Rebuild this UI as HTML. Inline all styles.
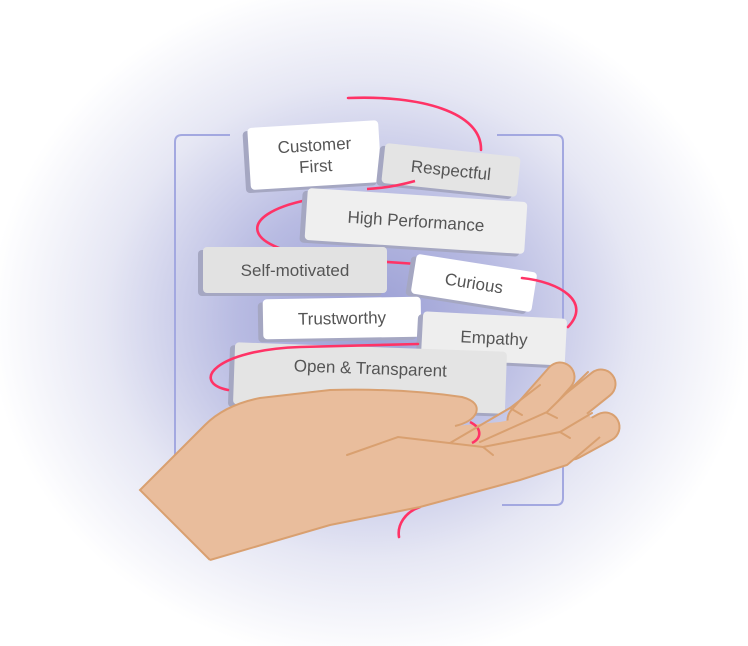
<!DOCTYPE html>
<html><head><style>html,body{margin:0;padding:0;background:#fff}svg{display:block}</style></head>
<body>
<svg width="748" height="646" viewBox="0 0 748 646" xmlns="http://www.w3.org/2000/svg">
<defs>
<radialGradient id="bg" cx="370" cy="320" r="380" gradientUnits="userSpaceOnUse" gradientTransform="translate(370 320) scale(1 0.9) translate(-370 -320)">
<stop offset="0" stop-color="#9a9ed4"/>
<stop offset="0.35" stop-color="#b8bbe2"/>
<stop offset="0.7" stop-color="#e6e7f4"/>
<stop offset="1" stop-color="#ffffff"/>
</radialGradient>
</defs>
<rect width="748" height="646" fill="#fff"/>
<rect width="748" height="646" fill="url(#bg)"/>
<g fill="none" stroke="#a3a8e0" stroke-width="2">
<path d="M230,135 L182,135 Q175,135 175,142 L175,470"/>
<path d="M497,135 L556,135 Q563,135 563,142 L563,498 Q563,505 556,505 L502,505"/>
</g>
<g stroke="#ff3366" stroke-width="2.6" fill="none" stroke-linecap="round">
<path d="M348,98 C420,95 482,112 481,150"/>
<path d="M307,200 C235,215 240,250 330,258 L417,264"/>
</g>
<g font-family="'Liberation Sans',sans-serif" font-size="17" fill="#555" text-anchor="middle">
<g transform="translate(315,155) rotate(-3.5)"><rect x="-71" y="-28" width="131" height="62" rx="4" fill="#a5a7c2"/><rect x="-66" y="-31" width="131" height="62" rx="4" fill="#fff"/><text x="0" y="-4">Customer</text><text x="0" y="17">First</text></g>
<g transform="translate(451,170) rotate(6)"><rect x="-73" y="-17" width="136" height="40" rx="4" fill="#a5a7c2"/><rect x="-68" y="-20" width="136" height="40" rx="4" fill="#e4e4e4"/><text x="0" y="6">Respectful</text></g>
<g transform="translate(416,221) rotate(3.7)"><rect x="-115" y="-23" width="220" height="52" rx="4" fill="#a5a7c2"/><rect x="-110" y="-26" width="220" height="52" rx="4" fill="#efefef"/><text x="0" y="6">High Performance</text></g>
<path d="M415,181 Q390,188 367,189" stroke="#ff3366" stroke-width="2.6" fill="none"/>
<g transform="translate(295,270)"><rect x="-97" y="-20" width="184" height="46" rx="4" fill="#a5a7c2"/><rect x="-92" y="-23" width="184" height="46" rx="4" fill="#e2e2e2"/><text x="0" y="6">Self-motivated</text></g>
<g transform="translate(474,283) rotate(9)"><rect x="-66" y="-17" width="122" height="40" rx="4" fill="#a5a7c2"/><rect x="-61" y="-20" width="122" height="40" rx="4" fill="#fff"/><text x="0" y="6">Curious</text></g>
<g transform="translate(342,318) rotate(-1)"><rect x="-84" y="-17" width="158" height="40" rx="4" fill="#a5a7c2"/><rect x="-79" y="-20" width="158" height="40" rx="4" fill="#fff"/><text x="0" y="6">Trustworthy</text></g>
<g transform="translate(494,338) rotate(3)"><rect x="-77" y="-20" width="144" height="47" rx="4" fill="#a5a7c2"/><rect x="-72" y="-23" width="144" height="47" rx="4" fill="#eeeeee"/><text x="0" y="6">Empathy</text></g>
<g transform="translate(370,378) rotate(2)"><rect x="-141" y="-28" width="272" height="62" rx="4" fill="#a5a7c2"/><rect x="-136" y="-31" width="272" height="62" rx="4" fill="#e4e4e4"/><text x="0" y="-4">Open &amp; Transparent</text></g>
</g>
<g stroke="#ff3366" stroke-width="2.6" fill="none" stroke-linecap="round">
<path d="M522,278 C560,282 592,302 568,327"/>
<path d="M418,344 L300,347 C215,350 190,382 228,390"/>
<path d="M420,507 C405,512 397,525 399,537"/>
</g>
<g stroke-linecap="round" fill="none">
<g stroke="#d9a070" stroke-width="31"><path d="M522,420 L560,377"/><path d="M556,420 L601,384"/><path d="M572,445 L605,427"/></g>
<g stroke="#e9bd9c" stroke-width="27"><path d="M522,420 L560,377"/><path d="M556,420 L601,384"/><path d="M572,445 L605,427"/></g>
</g>
<path d="M140,490 L205,425 Q225,405 260,398 L330,390 Q400,388 462,397 Q480,402 476,413 Q472,422 455,426 L500,422 L540,414 L585,412 L600,425 L598,438 L567,465 L520,480 L420,507 L330,525 L210,560 Z" fill="#e9bd9c"/>
<path d="M210,560 L140,490 L205,425 Q225,405 260,398 L330,390 Q400,388 462,397 Q480,402 476,413 Q472,422 455,426" fill="none" stroke="#d9a070" stroke-width="2"/>
<path d="M600,437 L567,465 L520,480 L420,507 L330,525 L210,560" fill="none" stroke="#d9a070" stroke-width="2"/>
<path d="M470,422 C482,428 482,438 472,443" stroke="#ff3366" stroke-width="2.6" fill="none"/>
<g stroke="#d9a070" stroke-width="2" fill="none" stroke-linecap="round">
<path d="M347,455 L398,437 L483,447 L560,432 L592,413"/>
<path d="M480,442 L547,412 L588,372"/>
<path d="M450,443 L510,408 L540,385"/>
<path d="M510,408 L522,415"/><path d="M547,413 L557,418"/><path d="M560,432 L570,438"/><path d="M483,447 L493,455"/>
</g>
</svg>
</body></html>
